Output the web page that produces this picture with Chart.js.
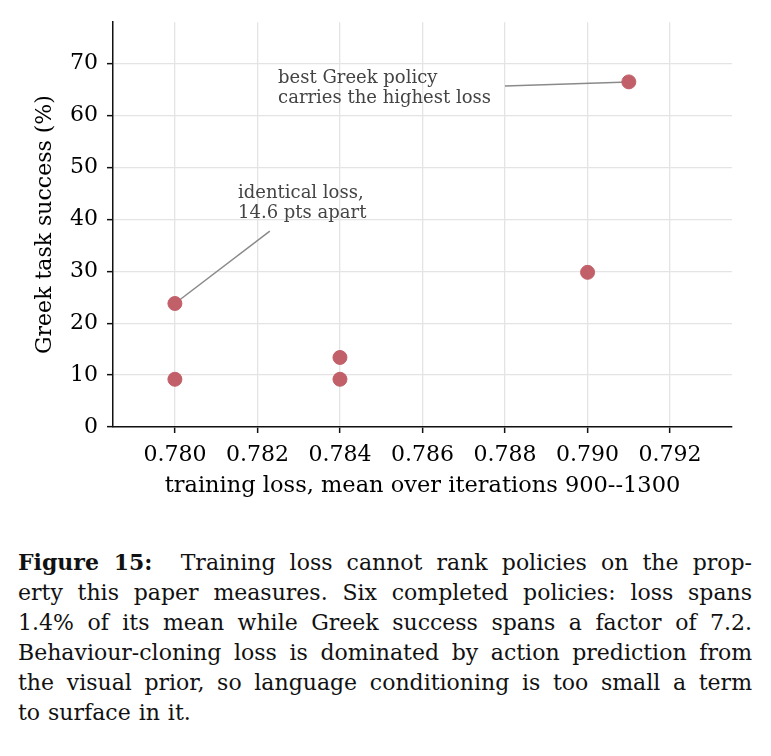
<!DOCTYPE html>
<html>
<head>
<meta charset="utf-8">
<script src="https://cdn.jsdelivr.net/npm/chart.js@4"></script>
<style>
  html, body { margin: 0; padding: 0; background: #fff; overflow: hidden; }
  #wrap { width: 771px; height: 520px; }
  .caption {
    position: absolute; left: 18px; top: 547px; width: 734px;
    font-family: "DejaVu Serif", serif; font-size: 22px; line-height: 30px; color: #111;
    word-spacing: -2px;
  }
  .caption div { text-align: justify; text-align-last: justify; white-space: nowrap; }
  .caption div.last { text-align-last: left; word-spacing: 1px; }
</style>
</head>
<body>
<div id="wrap"><canvas id="chart" width="771" height="520"></canvas></div>
<div class="caption">
  <div><b>Figure 15:</b>&nbsp; Training loss cannot rank policies on the prop-</div>
  <div>erty this paper measures. Six completed policies: loss spans</div>
  <div>1.4% of its mean while Greek success spans a factor of 7.2.</div>
  <div>Behaviour-cloning loss is dominated by action prediction from</div>
  <div>the visual prior, so language conditioning is too small a term</div>
  <div class="last">to surface in it.</div>
</div>
<script>
// six completed policies
const lossValues = [0.780, 0.780, 0.784, 0.784, 0.790, 0.791];
const greekSuccess = [23.8, 9.2, 13.4, 9.2, 29.8, 66.5];

const xTicks = [0.780, 0.782, 0.784, 0.786, 0.788, 0.790, 0.792];
const yTicks = [0, 10, 20, 30, 40, 50, 60, 70];

const xTitle = 'training loss, mean over iterations 900--1300';
const yTitle = 'Greek task success (%)';

// annotations: text lines, text anchor and arrow from -> point index
const notes = [
  { lines: ['best Greek policy', 'carries the highest loss'], tx: 0.7825, ty: [67.2, 63.4], from: [0.7880, 65.7], to: 5 },
  { lines: ['identical loss,', '14.6 pts apart'], tx: 0.78153, ty: [45.1, 41.2], from: [0.7823, 37.75], to: 0 }
];

const serif = '"DejaVu Serif", serif';
const dotColor = '#c2606a';

const notePlugin = {
  id: 'notes',
  beforeDatasetsDraw(chart) {
    const { ctx, scales: { x, y } } = chart;
    ctx.save();
    ctx.strokeStyle = '#8a8a8a';
    ctx.lineWidth = 1.5;
    notes.forEach(n => {
      ctx.beginPath();
      ctx.moveTo(x.getPixelForValue(n.from[0]), y.getPixelForValue(n.from[1]));
      ctx.lineTo(x.getPixelForValue(lossValues[n.to]), y.getPixelForValue(greekSuccess[n.to]));
      ctx.stroke();
    });
    ctx.fillStyle = '#444';
    ctx.font = '18px ' + serif;
    ctx.textAlign = 'left';
    ctx.textBaseline = 'middle';
    notes.forEach(n => {
      n.lines.forEach((t, i) => ctx.fillText(t, x.getPixelForValue(n.tx), y.getPixelForValue(n.ty[i])));
    });
    ctx.restore();
  }
};

new Chart(document.getElementById('chart'), {
  type: 'scatter',
  data: {
    datasets: [{
      data: lossValues.map((v, i) => ({ x: v, y: greekSuccess[i] })),
      backgroundColor: dotColor,
      borderColor: dotColor,
      pointRadius: 7,
      pointHoverRadius: 7
    }]
  },
  options: {
    responsive: false,
    animation: false,
    layout: { padding: { left: 0, right: 39, top: 22, bottom: 0 } },
    plugins: { legend: { display: false }, tooltip: { enabled: false } },
    scales: {
      x: {
        type: 'linear', min: 0.7785, max: 0.7935,
        afterBuildTicks: s => { s.ticks = xTicks.map(v => ({ value: v })); },
        afterFit: s => { s.height = 93; },
        ticks: { font: { family: serif, size: 22 }, color: '#000', padding: 9, maxRotation: 0,
                 callback: v => v.toFixed(3) },
        grid: { color: '#e4e4e4', lineWidth: 1.3, tickLength: 6, tickColor: '#111', tickWidth: 1.5 },
        border: { color: '#111', width: 1.5 },
        title: { display: true, text: xTitle, font: { family: serif, size: 22.5 }, color: '#000',
                 padding: { top: 0, bottom: 20 } }
      },
      y: {
        min: 0, max: 78,
        afterBuildTicks: s => { s.ticks = yTicks.map(v => ({ value: v })); },
        afterFit: s => { s.width = 113; },
        ticks: { font: { family: serif, size: 22 }, color: '#000', padding: 9 },
        grid: { color: '#e4e4e4', lineWidth: 1.3, tickLength: 6, tickColor: '#111', tickWidth: 1.5 },
        border: { color: '#111', width: 1.5 },
        title: { display: true, text: yTitle, font: { family: serif, size: 22 }, color: '#000',
                 padding: { top: 32, bottom: 0 } }
      }
    }
  },
  plugins: [notePlugin]
});
</script>
</body>
</html>
